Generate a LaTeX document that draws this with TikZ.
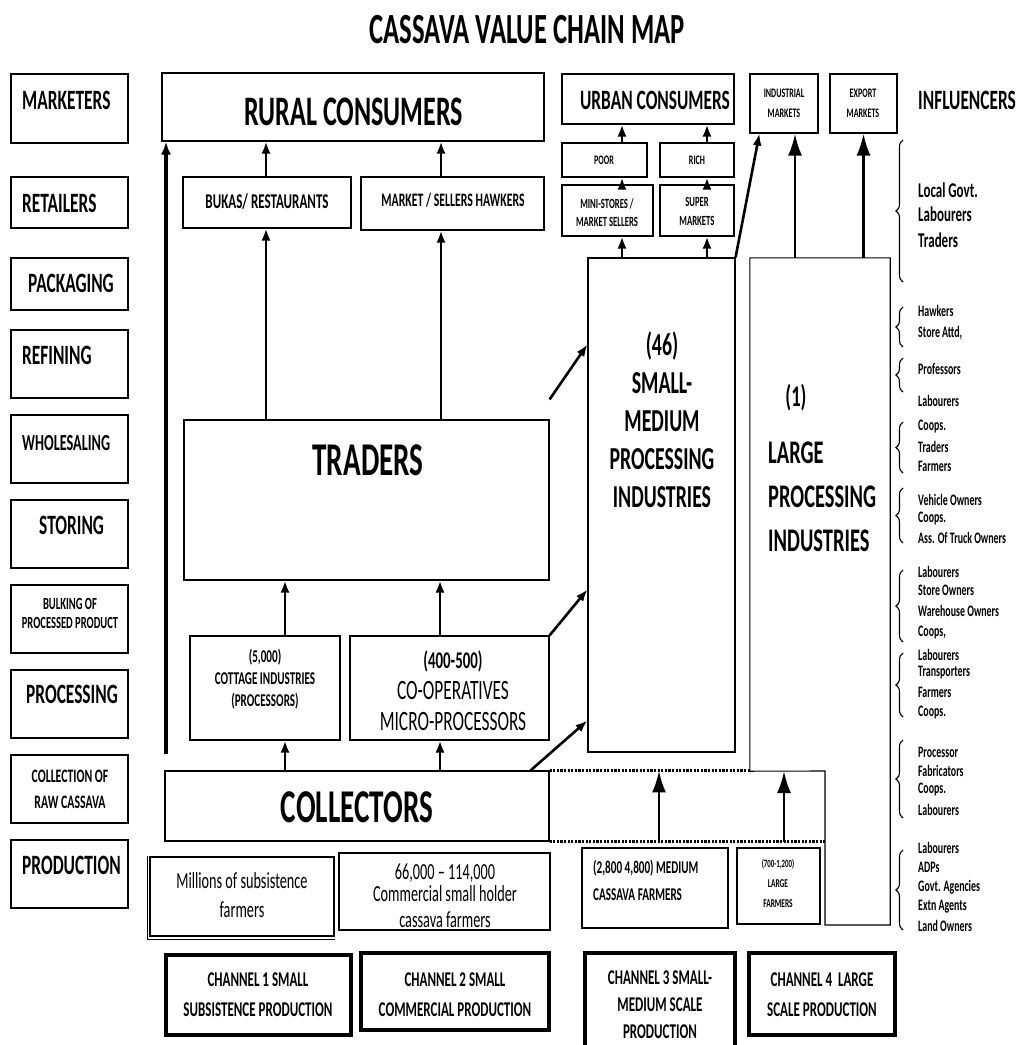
\documentclass[tikz,border=0pt]{standalone}
\usepackage{fontspec}
\setmainfont{Carlito}[FakeStretch=0.62]
\usetikzlibrary{arrows.meta,fit,decorations.pathreplacing}

\begin{document}
\begin{tikzpicture}[x=1pt, y=-1pt,
    box/.style={draw, line width=1.1pt, inner sep=0pt},
    chbox/.style={draw, line width=3.8pt, inner sep=0pt},
    txt/.style={align=center, inner sep=0pt},
    chtxt/.style={align=center, inner sep=0pt, font=\fontsize{21}{30}\selectfont\bfseries},
    arr/.style={line width=2.6pt, -{Latex[length=12pt,width=9pt]}},
    longarr/.style={line width=4pt, -{Latex[length=13pt,width=10pt]}},
    bigarr/.style={line width=2.8pt, -{Latex[length=22pt,width=14pt]}},
    band/.style={line width=3.4pt, dash pattern=on 2.2pt off 1.4pt},
    brace/.style={decorate, decoration={brace, amplitude=7pt}, line width=1.1pt},
    stage/.style={font=\fontsize{28}{32}\selectfont\bfseries, anchor=west, inner sep=0pt},
    who/.style={font=\fontsize{16}{18}\selectfont\bfseries, anchor=west, inner sep=0pt}]

    % Page size of the map
    \useasboundingbox (0,0) rectangle (1023,1045);

    % Title
    \node[font=\fontsize{43}{50}\selectfont\bfseries] (title) at (527,30) {CASSAVA VALUE CHAIN MAP};

    % Stages of the chain down the left side
    \node[box, fit={(11,74) (128,143)}] (marketers) {};
    \node[stage] (marketerstxt) at (22,100) {MARKETERS};
    \node[box, fit={(11,177) (128,228)}] (retailers) {};
    \node[stage] (retailerstxt) at (22,203) {RETAILERS};
    \node[box, fit={(11,258) (128,310)}] (packaging) {};
    \node[stage] (packagingtxt) at (28,283) {PACKAGING};
    \node[box, fit={(11,330) (128,398)}] (refining) {};
    \node[stage] (refiningtxt) at (22,355) {REFINING};
    \node[box, fit={(11,415) (128,483)}] (wholesaling) {};
    \node[stage, font=\fontsize{23}{26}\selectfont\bfseries] (wholesalingtxt) at (22,443) {WHOLESALING};
    \node[box, fit={(11,500) (128,568)}] (storing) {};
    \node[stage] (storingtxt) at (39,525) {STORING};
    \node[box, fit={(11,585) (128,653)}] (bulking) {};
    \node[txt, font=\fontsize{17}{19}\selectfont\bfseries] (bulkingtxt) at (70,613) {BULKING OF\\PROCESSED PRODUCT};
    \node[box, fit={(11,670) (128,738)}] (processing) {};
    \node[stage] (processingtxt) at (26,694) {PROCESSING};
    \node[box, fit={(11,755) (128,823)}] (collection) {};
    \node[txt, font=\fontsize{19}{26}\selectfont\bfseries] (collectiontxt) at (70,789) {COLLECTION OF\\RAW CASSAVA};
    \node[box, fit={(11,840) (128,908)}] (production) {};
    \node[stage] (productiontxt) at (22,865) {PRODUCTION};

    % Rural side of the chain
    \node[box, fit={(162,73) (544,141)}] (rural) {};
    \node[txt, font=\fontsize{42}{46}\selectfont\bfseries] (ruraltxt) at (354,112) {RURAL CONSUMERS};
    \node[box, fit={(183,177) (351,228)}] (bukas) {};
    \node[txt, font=\fontsize{21}{24}\selectfont\bfseries] (bukastxt) at (267,202) {BUKAS/ RESTAURANTS};
    \node[box, fit={(361,177) (544,230)}] (hawkers) {};
    \node[txt, font=\fontsize{19}{22}\selectfont\bfseries] (hawkerstxt) at (453,200) {MARKET / SELLERS HAWKERS};
    \node[box, fit={(184,420) (549,580)}] (traders) {};
    \node[txt, font=\fontsize{47}{50}\selectfont\bfseries] (traderstxt) at (368,460) {TRADERS};
    \node[box, fit={(190,636) (340,740)}] (cottage) {};
    \node[txt, font=\fontsize{18}{22}\selectfont\bfseries] (cottagetxt) at (265,679) {(5,000)\\COTTAGE INDUSTRIES\\(PROCESSORS)};
    \node[box, fit={(350,636) (549,740)}] (coops) {};
    \node[txt, font=\fontsize{28}{31}\selectfont] (coopstxt) at (453,691) {{\fontsize{24}{31}\selectfont\bfseries (400-500)}\\CO-OPERATIVES\\MICRO-PROCESSORS};
    \node[box, fit={(165,771) (549,841)}] (collectors) {};
    \node[txt, font=\fontsize{47}{50}\selectfont\bfseries] (collectorstxt) at (357,807) {COLLECTORS};

    % Urban side and the processing industries
    \node[box, fit={(562,74) (734,124)}] (urban) {};
    \node[txt, font=\fontsize{28}{32}\selectfont\bfseries] (urbantxt) at (655,100) {URBAN CONSUMERS};
    \node[box, fit={(750,74) (818,133)}] (indmkt) {};
    \node[txt, font=\fontsize{13}{20}\selectfont\bfseries] (indmkttxt) at (784,103) {INDUSTRIAL\\MARKETS};
    \node[box, fit={(830,74) (897,133)}] (expmkt) {};
    \node[txt, font=\fontsize{13}{20}\selectfont\bfseries] (expmkttxt) at (863,103) {EXPORT\\MARKETS};
    \node[stage] (influencers) at (918,100) {INFLUENCERS};
    \node[box, fit={(562,143) (647,177)}] (poor) {};
    \node[txt, font=\fontsize{13}{16}\selectfont\bfseries] (poortxt) at (604,160) {POOR};
    \node[box, fit={(660,143) (734,177)}] (rich) {};
    \node[txt, font=\fontsize{13}{16}\selectfont\bfseries] (richtxt) at (697,160) {RICH};
    \node[box, fit={(562,185) (653,236)}] (mini) {};
    \node[txt, font=\fontsize{14}{18}\selectfont\bfseries] (minitxt) at (607,213) {MINI-STORES /\\MARKET SELLERS};
    \node[box, fit={(660,185) (734,236)}] (super) {};
    \node[txt, font=\fontsize{14}{19}\selectfont\bfseries] (supertxt) at (697,211) {SUPER\\MARKETS};
    \node[box, fit={(588,258) (735,752)}] (smallmed) {};
    \node[txt, font=\fontsize{32}{38}\selectfont\bfseries] (smallmedtxt) at (662,420) {(46)\\SMALL-\\MEDIUM\\PROCESSING\\INDUSTRIES};
    \node[fit={(750,258) (890,771)}, inner sep=0pt] (large) {};
    \coordinate (lk) at (825,771);
    \coordinate (lb) at (825,925);
    \draw[line width=1.1pt] (lk) -- (large.south west) -- (large.north west) -- (large.north east) -- (large.east |- lb) -- (lb) -- cycle;
    \node[txt, font=\fontsize{30}{34}\selectfont\bfseries] (largenum) at (796,398) {(1)};
    \node[anchor=west, align=left, inner sep=0pt, font=\fontsize{33}{44}\selectfont\bfseries] (largetxt) at (768,497) {LARGE\\PROCESSING\\INDUSTRIES};

    % Farmers
    \node[box, fit={(150,857) (334,936)}] (millions) {};
    \draw[line width=0.8pt] ([xshift=-2pt]millions.north west) -- ([xshift=-2pt,yshift=-3pt]millions.south west) -- ([yshift=-3pt]millions.south east);
    \node[txt, font=\fontsize{23}{29}\selectfont] (millionstxt) at (242,895) {Millions of subsistence\\farmers};
    \node[box, fit={(339,853) (550,930)}] (commercial) {};
    \node[txt, font=\fontsize{23}{24}\selectfont] (commercialtxt) at (445,896) {66,000 – 114,000\\[-2pt]Commercial small holder\\[2pt]cassava farmers};
    \node[box, fit={(582,848) (728,928)}] (medium) {};
    \node[anchor=west, align=left, inner sep=0pt, font=\fontsize{18}{27}\selectfont\bfseries] (mediumtxt) at (593,880) {(2,800 4,800) MEDIUM\\CASSAVA FARMERS};
    \node[box, fit={(737,848) (820,924)}] (largefarm) {};
    \node[txt, font=\fontsize{12}{20}\selectfont\bfseries] (largefarmtxt) at (778,883) {{\fontsize{11}{20}\selectfont(700-1,200)}\\LARGE\\FARMERS};

    % Channels
    \node[chbox, fit={(166,955) (351,1035)}] (ch1) {};
    \node[chtxt] (ch1txt) at (258,995) {CHANNEL 1 SMALL\\SUBSISTENCE PRODUCTION};
    \node[chbox, fit={(361,953) (549,1030)}] (ch2) {};
    \node[chtxt] (ch2txt) at (455,995) {CHANNEL 2 SMALL\\COMMERCIAL PRODUCTION};
    \node[chbox, fit={(585,953) (735,1062)}] (ch3) {};
    \node[chtxt, font=\fontsize{21}{27}\selectfont\bfseries] (ch3txt) at (660,1005) {CHANNEL 3 SMALL-\\MEDIUM SCALE\\PRODUCTION};
    \node[chbox, fit={(749,953) (895,1035)}] (ch4) {};
    \node[chtxt] (ch4txt) at (822,995) {CHANNEL 4\ \ LARGE\\SCALE PRODUCTION};

    % Columns of the arrows
    \coordinate (ca) at (266,0);
    \coordinate (cb) at (441,0);
    \coordinate (cc) at (285,0);
    \coordinate (cd) at (440,0);
    \coordinate (ce) at (622,0);
    \coordinate (cf) at (707,0);
    \coordinate (cg) at (795,0);
    \coordinate (ch) at (659,0);
    \coordinate (ci) at (784,0);
    \coordinate (cj) at (166,0);

    % Flows on the rural side
    \draw[arr] (collectors.north -| cc) -- (cottage.south -| cc);
    \draw[arr] (collectors.north -| cd) -- (coops.south -| cd);
    \draw[arr] (cottage.north -| cc) -- (traders.south -| cc);
    \draw[arr] (coops.north -| cd) -- (traders.south -| cd);
    \draw[arr] (traders.north -| ca) -- (bukas.south -| ca);
    \draw[arr] (traders.north -| cb) -- (hawkers.south -| cb);
    \draw[arr] (bukas.north -| ca) -- (rural.south -| ca);
    \draw[arr] (hawkers.north -| cb) -- (rural.south -| cb);
    \draw[longarr] (collectors.north -| cj) ++(0,-16) -- (rural.south -| cj);

    % Flows into the processing industries
    \draw[arr] ([yshift=20pt]traders.north east) -- ([yshift=-87pt]smallmed.north west);
    \draw[arr] (coops.north east) -- ([yshift=-332pt]smallmed.north west);
    \draw[arr] ([xshift=-19pt]collectors.north east) -- ([yshift=32pt]smallmed.south west);
    \draw[band] (collectors.north east) -- (collectors.north east -| large.west);
    \draw[band] (collectors.south east) -- (collectors.south east -| lk);
    \draw[bigarr] (collectors.south east -| ch) -- (collectors.north east -| ch);
    \draw[bigarr] (collectors.south east -| ci) -- (lk -| ci);

    % Flows on the urban side
    \foreach \c/\a/\b/\d in {ce/mini/poor/smallmed, cf/super/rich/smallmed} {
        \draw[arr] (\d.north -| \c) -- (\a.south -| \c);
        \draw[arr] (\a.north -| \c) -- (\b.south -| \c);
        \draw[arr] (\b.north -| \c) -- (urban.south -| \c);
    }
    \draw[arr] (smallmed.north east) -- ([xshift=10pt]indmkt.south west);
    \draw[bigarr] (large.north -| cg) -- (indmkt.south -| cg);
    \draw[bigarr] (large.north -| expmkt) -- (expmkt.south);

    % Influencers
    \foreach \ya/\yb in {140/282, 307/347, 358/392, 422/473, 488/543, 570/642, 653/717, 740/818, 850/930}
        \draw[brace] (903,\yb) -- (903,\ya);
    \foreach \y/\who [count=\i] in {190/Local Govt., 214/Labourers, 240/Traders}
        \node[who, font=\fontsize{21}{24}\selectfont\bfseries] (lead\i) at (918,\y) {\who};
    \foreach \y/\who [count=\i] in {311/Hawkers, 333/{Store Attd,}, 369/Professors, 401/Labourers,
        427/Coops., 447/Traders, 466/Farmers, 500/Vehicle Owners, 519/Coops., 538/Ass. Of Truck Owners,
        572/Labourers, 590/Store Owners, 611/Warehouse Owners, 633/{Coops,}, 655/Labourers,
        673/Transporters, 692/Farmers, 713/Coops., 752/Processor, 771/Fabricators, 790/Coops.,
        810/Labourers, 848/Labourers, 867/ADPs, 887/Govt. Agencies, 907/Extn Agents, 926/Land Owners}
        \node[who] (who\i) at (918,\y) {\who};
\end{tikzpicture}
\end{document}
